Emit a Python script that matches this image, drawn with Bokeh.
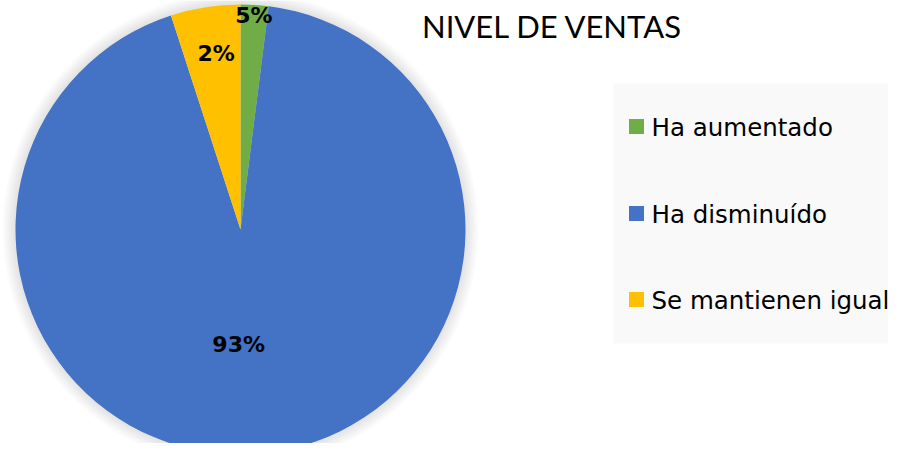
import numpy as np
from bokeh.plotting import figure
from bokeh.models import Range1d, ColumnDataSource
from bokeh.core.properties import value
from bokeh.embed import file_html
from bokeh.resources import INLINE

# ---- data ----
categories = ["Ha aumentado", "Ha disminuído", "Se mantienen igual"]
values = [2, 93, 5]
label_texts = ["5%", "93%", "2%"]
colors = ["#70AD47", "#4472C4", "#FFC000"]
title_text = "NIVEL DE VENTAS"

# ---- layout (reference pixel coordinates; y flipped) ----
PW, PH = 888, 443
def fy(y):
    return PH - y

cx, cy, R = 240, 229, 225

p = figure(width=PW, height=PH, output_backend="svg",
           toolbar_location=None, x_range=Range1d(0, PW),
           y_range=Range1d(0, PH), min_border=0)
p.axis.visible = False
p.grid.visible = False
p.outline_line_color = None
p.background_fill_color = "white"
p.border_fill_color = "white"

# soft shadow around the pie
for i in range(10):
    p.circle(x=[cx], y=[fy(cy)], radius=R + 0.5 + i * 1.4, fill_color="#000000",
             fill_alpha=0.012, line_color=None)

vals = np.array(values, dtype=float)
frac = vals / vals.sum()
ang = frac * 2 * np.pi
ends = np.pi / 2 - np.cumsum(ang)
starts = ends + ang
src = ColumnDataSource(dict(start=ends, end=starts, color=colors, cat=categories))
p.wedge(x=cx, y=fy(cy), radius=R, start_angle="start", end_angle="end",
        fill_color="color", line_color=None, source=src)

# data labels
mid = (starts + ends) / 2
label_r = np.array([0.955, 0.51, 0.79]) * R
mid_adj = mid + np.array([0.0, -0.11, -0.02])
lx = cx + label_r * np.cos(mid_adj)
ly = fy(cy) + label_r * np.sin(mid_adj)
p.text(x=lx, y=ly, text=label_texts, text_font=value("DejaVu Sans"),
       text_font_style="bold", text_font_size="22px", text_color="#000000",
       text_align="center", text_baseline="middle")

# title
p.text(x=[552], y=[fy(25)], text=[title_text], text_font=value("Lato"),
       text_font_size="31px", text_color="#000000", text_align="center",
       text_baseline="middle")

# legend
p.quad(left=[613], right=[PW + 20], top=[fy(83)], bottom=[fy(343)],
       fill_color="#F9F9F9", line_color=None)
ly_leg = np.array([126, 213, 299])
p.scatter(x=[636] * 3, y=fy(ly_leg), marker="square", size=15,
          fill_color=colors, line_color=None)
p.text(x=[651] * 3, y=fy(ly_leg + 1), text=categories,
       text_font=value("DejaVu Sans"), text_font_size="24.5px",
       text_color="#000000", text_align="left", text_baseline="middle")

open("out.html", "w").write(file_html(p, INLINE))
